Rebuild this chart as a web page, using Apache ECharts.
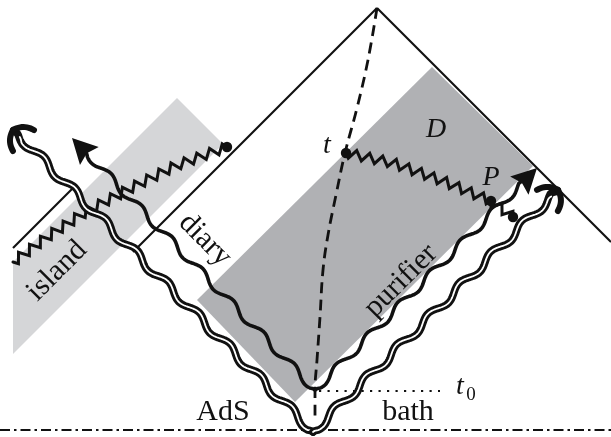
<!DOCTYPE html>
<html><head><meta charset="utf-8">
<script src="https://cdn.jsdelivr.net/npm/echarts@6/dist/echarts.min.js"></script>
<style>html,body{margin:0;padding:0;background:#fff}#c{width:611px;height:437px}</style>
</head><body><div id="c"></div>
<script>
// ---- diagram data (axis units: x 0..611 to the right, y 0..437 downward) ----
const islandRegion    = [[177,98],[223,144],[13,354],[13,262]];
const purifierRegion  = [[432,67],[533,166],[295,402],[197,300]];
const boundaryLeft    = [[377,8],[133,252]];
const boundaryRight   = [[377,8],[611,242]];
const shiftedBoundary = [[13,248],[72,189]];
const bathBaseline    = [[0,430],[611,430]];
const t0Line          = [[319,391],[440,391]];
const dashedCurve     = [[377,8],[368,60],[357,108],[345,153],[336,195],[328,235],[323,270],[320,317],[317,360],[315,390],[315,420]];
const doubleWavyLeft  = [[313,432],[13,130]];
const doubleWavyRight = [[313,432],[558,190]];
const singleWavyLeft  = [[315,390],[72,138]];
const singleWavyRight = [[315,390],[537,168]];
const zigzagIsland    = [[227,147],[175,166],[133,187],[87,211],[50,235],[13,262]];
const zigzagTP        = [[346,153],[393,163],[443,181],[491,201]];
const zigzagP         = [[491,201],[513,217]];
const dotPoints       = [[227,147],[346,153],[491,201],[513,217]];
const wordLabels      = ['island','diary','purifier','AdS','bath'];
const wordPositions   = [[57,271],[205,240],[401,281],[223,412],[408,412]];
const wordAngles      = [45,-45,45,0,0];
const mathLabels      = ['t','D','P','t'];
const mathPositions   = [[327,146],[436,130],[491,178],[460,387]];
const subLabels       = ['0'];
const subPositions    = [[471,395]];

// ---- helpers ----
function pathAlong(px){
  const segs=[]; let L=0;
  for(let i=0;i<px.length-1;i++){
    const dx=px[i+1][0]-px[i][0], dy=px[i+1][1]-px[i][1], len=Math.hypot(dx,dy);
    segs.push({ax:px[i][0],ay:px[i][1],tx:dx/len,ty:dy/len,len,s0:L}); L+=len;
  }
  return {L, at(s){
    let g=segs[segs.length-1];
    for(const sg of segs){ if(s<=sg.s0+sg.len){g=sg;break;} }
    const u=s-g.s0; return {x:g.ax+g.tx*u, y:g.ay+g.ty*u, tx:g.tx, ty:g.ty};
  }};
}
function wave(px, amp, lambda, sign, trimEnd){
  const P=pathAlong(px), end=P.L-trimEnd, out=[];
  for(let s=0;s<=end+0.01;s+=1){
    const q=P.at(Math.min(s,end));
    const env=Math.min(1,Math.min(s/5,(end-s)/6));
    const off=sign*amp*env*Math.sin(2*Math.PI*s/lambda);
    out.push([q.x-q.ty*off, q.y+q.tx*off]);
  }
  return out;
}
function zigzag(px, amp, period){
  const P=pathAlong(px), h=period/2, n=Math.max(2,Math.round(P.L/h)), hh=P.L/n, out=[];
  let q=P.at(0); out.push([q.x,q.y]);
  for(let k=0;k<n;k++){
    q=P.at((k+0.5)*hh); const off=(k%2?-1:1)*amp;
    out.push([q.x-q.ty*off, q.y+q.tx*off]);
  }
  q=P.at(P.L); out.push([q.x,q.y]);
  return out;
}
function rot(v,a){return [v[0]*Math.cos(a)-v[1]*Math.sin(a), v[0]*Math.sin(a)+v[1]*Math.cos(a)];}
function backDir(px){
  const a=px[px.length-2], b=px[px.length-1], l=Math.hypot(a[0]-b[0],a[1]-b[1]);
  return [(a[0]-b[0])/l,(a[1]-b[1])/l];
}
function line(points, stroke, w){
  return {type:'polyline', shape:{points}, style:{stroke, lineWidth:w, fill:'none', lineJoin:'miter', lineCap:'round'}};
}
function hookArrow(tip, back, L){
  const kids=[];
  [1,-1].forEach(sg=>{
    const d=rot(back, sg*Math.PI/4), n=rot(d, sg*Math.PI/2), pts=[];
    for(let i=0;i<=12;i++){
      const t=i/12, bul=3*4*t*(1-t);
      pts.push([tip[0]+d[0]*L*t+n[0]*bul, tip[1]+d[1]*L*t+n[1]*bul]);
    }
    kids.push(line(pts,'#111',6));
  });
  return kids;
}
function triArrow(tip, back, L, W){
  const p=[back[1]*-1, back[0]];
  return {type:'polygon', shape:{points:[
    tip,
    [tip[0]+back[0]*L+p[0]*W, tip[1]+back[1]*L+p[1]*W],
    [tip[0]+back[0]*L*0.85, tip[1]+back[1]*L*0.85],
    [tip[0]+back[0]*L-p[0]*W, tip[1]+back[1]*L-p[1]*W]
  ]}, style:{fill:'#111'}};
}
function customSeries(items, draw, z){
  return {type:'custom', coordinateSystem:'cartesian2d', z, silent:true, animation:false, clip:false,
    data: items.map((_,i)=>[i,0]),
    renderItem:(params, api)=>draw(items[params.dataIndex], api)};
}
function lineSeries(data, style, z, smooth){
  return {type:'line', data, symbol:'none', silent:true, animation:false, z, smooth:smooth||false,
    lineStyle:Object.assign({color:'#111', width:2}, style)};
}

const serif='"Liberation Serif","DejaVu Serif",serif';
const chart=echarts.init(document.getElementById('c'), null, {renderer:'canvas'});
chart.setOption({
  animation:false,
  grid:{left:0,right:0,top:0,bottom:0},
  xAxis:{type:'value',min:0,max:611,show:false},
  yAxis:{type:'value',min:0,max:437,inverse:true,show:false},
  series:[
    customSeries([{pts:islandRegion,fill:'#d5d6d8'},{pts:purifierRegion,fill:'#b0b1b4'}],
      (it,api)=>({type:'polygon', shape:{points:it.pts.map(p=>api.coord(p))}, style:{fill:it.fill}}), 1),
    lineSeries(boundaryLeft,{width:2.2},2),
    lineSeries(boundaryRight,{width:2.2},2),
    lineSeries(shiftedBoundary,{width:2.2},2),
    lineSeries(bathBaseline,{width:2.2,type:[10,4,2.5,4]},2),
    lineSeries(t0Line,{width:2.2,type:[2.2,6.3]},2),
    lineSeries(dashedCurve,{width:2.8,type:[11,6.5]},2,0.4),
    // zigzag lines
    customSeries([zigzagIsland, zigzagTP, zigzagP], (pts,api)=>{
      const px=pts.map(p=>api.coord(p));
      return line(zigzag(px,4.6,13.5),'#111',3);
    }, 3),
    // single wavy lines with filled arrowheads
    customSeries([{pts:singleWavyLeft,sign:-1},{pts:singleWavyRight,sign:1}], (it,api)=>{
      const px=it.pts.map(p=>api.coord(p)), back=backDir(px), tip=px[px.length-1];
      return {type:'group', children:[line(wave(px,3.5,44,it.sign,18),'#111',3.6), triArrow(tip,back,25,13)]};
    }, 4),
    // double wavy lines with hook arrowheads
    customSeries([{pts:doubleWavyLeft,sign:-1},{pts:doubleWavyRight,sign:1}], (it,api)=>{
      const px=it.pts.map(p=>api.coord(p)), back=backDir(px), tip=px[px.length-1];
      const outer=wave(px,3.5,44,it.sign,2), inner=wave(px,3.5,44,it.sign,9);
      return {type:'group', children:[line(outer,'#111',7.5), ...hookArrow(tip,back,21), line(inner,'#fff',1.8)]};
    }, 5),
    // dots
    customSeries(dotPoints, (p,api)=>{
      const c=api.coord(p); return {type:'circle', shape:{cx:c[0],cy:c[1],r:5.2}, style:{fill:'#111'}};
    }, 6),
    // word labels
    customSeries(wordLabels.map((t,i)=>({t,p:wordPositions[i],a:wordAngles[i]})), (it,api)=>{
      const c=api.coord(it.p);
      return {type:'text', x:c[0], y:c[1], rotation:it.a*Math.PI/180,
        style:{text:it.t, fontFamily:serif, fontSize:30, fill:'#111', align:'center', verticalAlign:'middle'}};
    }, 7),
    // math labels
    customSeries(mathLabels.map((t,i)=>({t,p:mathPositions[i]})), (it,api)=>{
      const c=api.coord(it.p);
      return {type:'text', x:c[0], y:c[1],
        style:{text:it.t, fontFamily:serif, fontStyle:'italic', fontSize:28, fill:'#111', align:'center', verticalAlign:'middle'}};
    }, 7),
    customSeries(subLabels.map((t,i)=>({t,p:subPositions[i]})), (it,api)=>{
      const c=api.coord(it.p);
      return {type:'text', x:c[0], y:c[1],
        style:{text:it.t, fontFamily:serif, fontSize:19, fill:'#111', align:'center', verticalAlign:'middle'}};
    }, 7)
  ]
});
</script></body></html>
